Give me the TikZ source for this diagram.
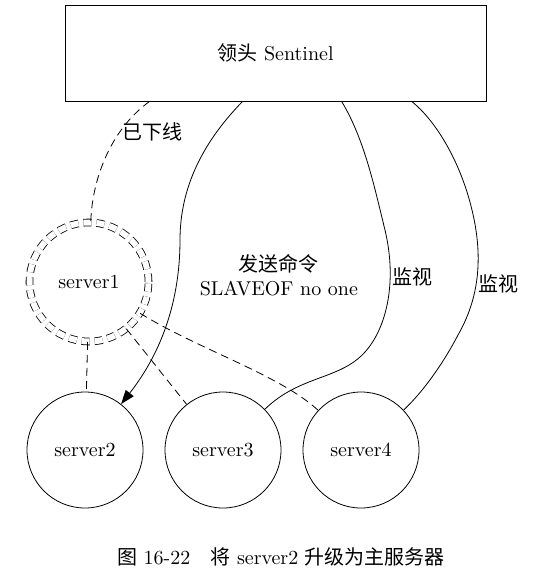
\documentclass[tikz,border=0pt]{standalone}
\usepackage{fontspec}
\newfontfamily\cjkfont{Noto Sans CJK SC}
\usetikzlibrary{arrows.meta, positioning}

\begin{document}
\begin{tikzpicture} [x=0.5pt, y=-0.5pt, node distance = 69pt, on grid,
    dashline/.style = {dash pattern=on 4pt off 2.5pt},
    server/.style = {circle, draw, minimum size=58pt, inner sep=0pt},
    offline/.style = {server, dashline, double, double distance=3pt, minimum size=59.5pt},
    sentinel/.style = {rectangle, draw, minimum width=210.5pt, minimum height=48pt}]

\useasboundingbox (0,0) rectangle (551,587);

\node (leader) [sentinel] at (275.5,53) {{\cjkfont 领头} Sentinel};
\node (server1) [offline] at (89,282) {server1};
\node (server2) [server] at (85,450) {server2};
\node (server3) [server, right = of server2] {server3};
\node (server4) [server, right = of server3] {server4};

\draw [dashline] ([xshift=42.5pt]leader.south west) .. controls (110,130) and (92,180) .. (server1)
    node [pos=0.3, right=0pt, inner sep=1pt] {\cjkfont 已下线};
\draw [-{Triangle[length=7pt, width=5pt]}]
    ([xshift=89pt]leader.south west) .. controls (205,140) and (180,185) .. (180,240)
    .. controls (180,300) and (162,352) .. (server2)
    node [pos=0.2, right=7.5pt, align=center] {{\cjkfont 发送命令}\\SLAVEOF no one};
\draw ([xshift=138.5pt]leader.south west) .. controls (365,140) and (375,190) .. (385,230)
    .. controls (398,285) and (385,330) .. (365,352) node [pos=0.3, right=0pt, inner sep=1pt] {\cjkfont 监视}
    .. controls (340,380) and (300,375) .. (server3);
\draw ([xshift=173.5pt]leader.south west) .. controls (435,120) and (460,160) .. (472,210)
    .. controls (484,260) and (478,300) .. (458,335) node [pos=0.55, right=0pt, inner sep=1pt] {\cjkfont 监视}
    .. controls (445,360) and (425,390) .. (server4);

\path [dashline, draw] (server1) edge (server2) edge (server3);
\draw [dashline] (server1) .. controls (200,350) and (280,375) .. (server4);

\node (caption) at (281,557) {{\cjkfont 图} 16-22\quad{\cjkfont 将} server2 {\cjkfont 升级为主服务器}};

\end{tikzpicture}
\end{document}
